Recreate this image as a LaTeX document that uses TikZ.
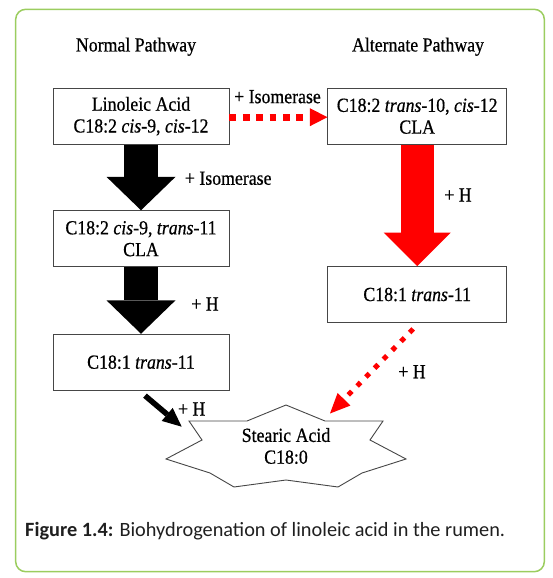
\documentclass[tikz,border=0pt]{standalone}
\usepackage{fontspec}
\setmainfont{Liberation Serif}[FakeStretch=0.89,FakeBold=0.6]
\newfontfamily\capfont{Carlito}
\usetikzlibrary{arrows.meta,calc}
\definecolor{framegreen}{RGB}{155,205,95}
\definecolor{boxgray}{RGB}{70,70,70}
\definecolor{arrred}{RGB}{255,0,0}
\newcommand\diagfont{\fontsize{20}{21.8}\selectfont}
\begin{document}
\begin{tikzpicture}[x=1pt,y=-1pt,
  box/.style={draw=boxgray,line width=0.9pt,fill=white,minimum width=176pt,minimum height=56pt,inner sep=0pt,align=center,font=\diagfont},
  lbl/.style={inner sep=0pt,font=\diagfont},
  blockblack/.style={black,line width=33.4pt,-{Triangle[width=69pt,length=33.4pt,line width=0pt]}},
  blockred/.style={arrred,line width=33.4pt,-{Triangle[width=67pt,length=33.4pt,line width=0pt]}},
  reddash/.style={arrred,line width=7pt,dash pattern=on 6.7pt off 6.7pt,-{Triangle[width=18pt,length=17.5pt,line width=0pt]}},
  reddot/.style={arrred,line width=5pt,dash pattern=on 5pt off 7.5pt,-{Triangle[width=18pt,length=20pt,line width=0pt]}},
  thinblack/.style={black,line width=5.5pt,-{Triangle[width=17pt,length=19pt,line width=0pt]}},
  starline/.style={draw=boxgray,line width=0.9pt,fill=white}]
\useasboundingbox (0,0) rectangle (553,578);
\draw[framegreen,line width=1.5pt,rounded corners=10pt] (15.7,9.3) rectangle (544.3,571.7);

% star outline
\coordinate (sc) at (286,446);
\begin{scope}[shift={(sc)}]
\draw[starline] (0,-41) -- (39,-25) -- (97,-25) -- (84,-6) -- (120,13) -- (76,27) -- (52,41)
  -- (0,34) -- (-52,41) -- (-76,27) -- (-120,13) -- (-84,-6) -- (-97,-25) -- (-39,-25) -- cycle;
\end{scope}

\node[lbl] (t1) at (136,46.7) {Normal Pathway};
\node[lbl] (t2) at (418,46.7) {Alternate Pathway};

\node[box] (b1) at (141,116.2) {Linoleic Acid\\C18:2 \textit{cis}-9, \textit{cis}-12};
\node[box,minimum width=178.7pt] (b2) at (417.2,116.2) {C18:2 \textit{trans}-10, \textit{cis}-12\\CLA};
\node[box] (b3) at (141,238.7) {C18:2 \textit{cis}-9, \textit{trans}-11\\CLA};
\node[box,minimum width=178.7pt] (b4) at (417.2,294.5) {C18:1 \textit{trans}-11};
\node[box] (b5) at (141,362.2) {C18:1 \textit{trans}-11};
\node[lbl,align=center] (sa) at (sc) {Stearic Acid\\C18:0};

\node[lbl] (i1) at (277.5,96.7) {+ Isomerase};
\node[lbl,anchor=west] (i2) at (184.7,178.3) {+ Isomerase};
\node[lbl] (h1) at (458,195) {+ H};
\node[lbl] (h2) at (205,304) {+ H};
\node[lbl] (h3) at (191.7,409) {+ H};
\node[lbl] (h4) at (412,371.7) {+ H};

\draw[blockblack] (b1.south) -- (b3.north);
\draw[blockblack] (b3.south) -- (b5.north);
\draw[blockred] (b2.south) -- (b4.north);
\draw[reddash] ([yshift=-1pt]b1.east) -- ([yshift=-1pt]b2.west);
\draw[reddot] ($(b4.south)+(-4,6)$) -- ($(sc)+(44,-32.5)$);
\draw[thinblack] ($(b5.south)+(4,5)$) -- ($(sc)+(-104.3,-19.3)$);

\node[anchor=base west,inner sep=0pt,font=\capfont\fontsize{20.3}{24}\selectfont,text=black!88] (cap) at (25,536)
  {\textbf{Figure 1.4:} Biohydrogenation of linoleic acid in the rumen.};
\end{tikzpicture}
\end{document}
